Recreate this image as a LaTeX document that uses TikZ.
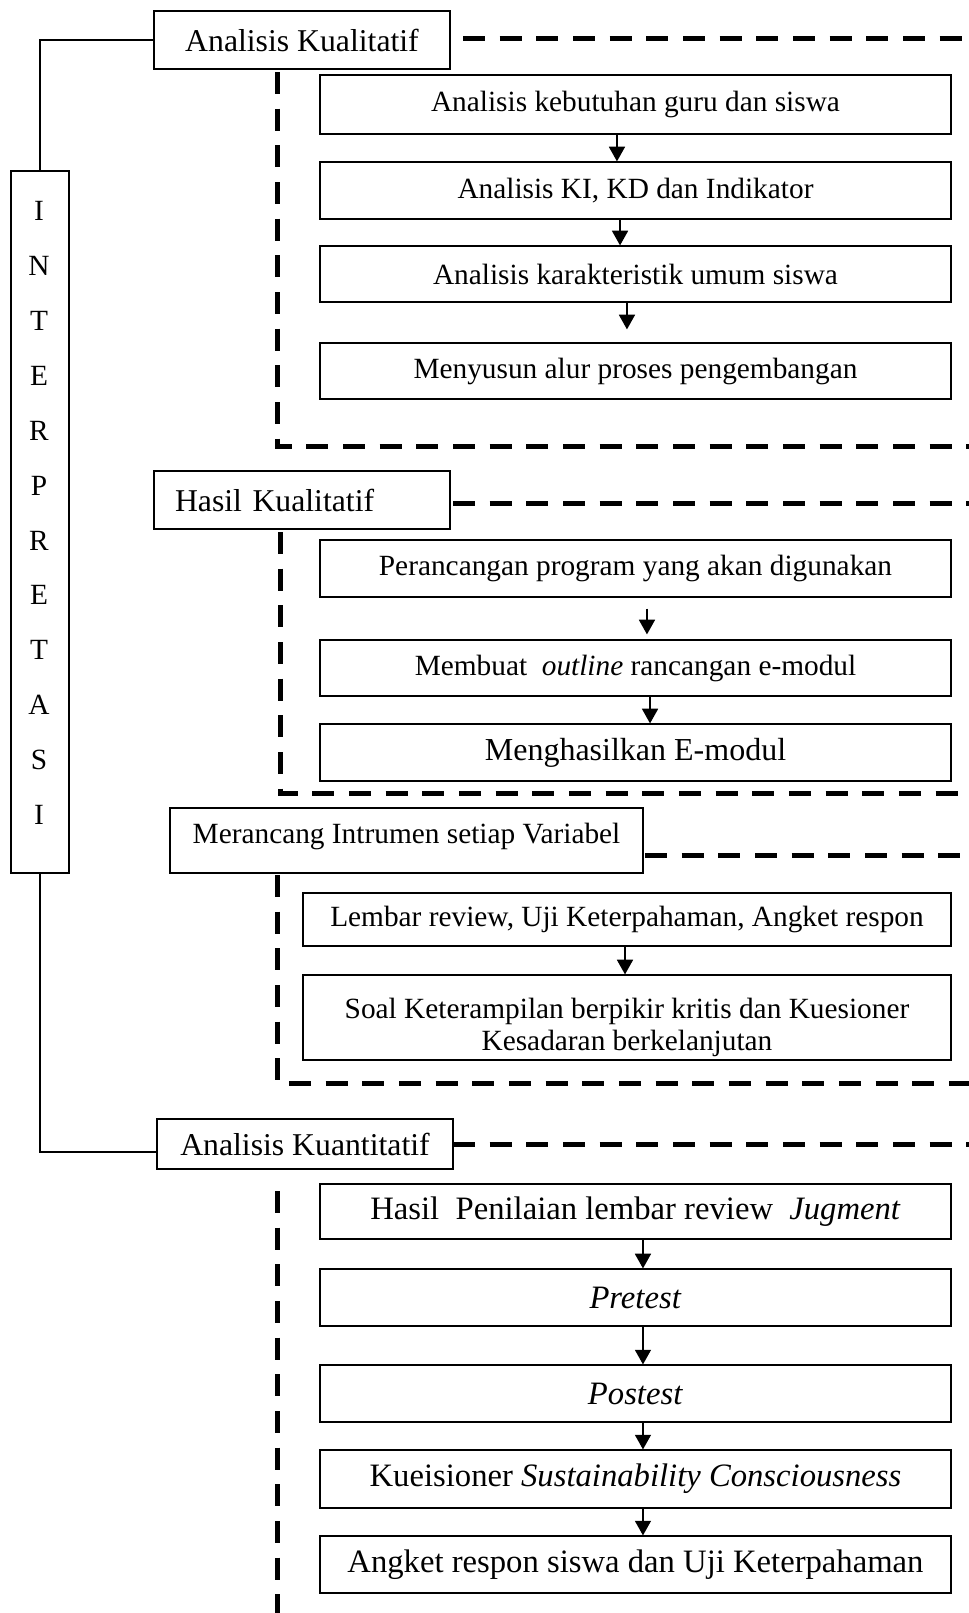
\documentclass[tikz,border=0pt]{standalone}
\usepackage{fontspec}
\setmainfont{Liberation Serif}
\usetikzlibrary{arrows.meta}
\begin{document}
\begin{tikzpicture}[x=0.75pt,y=-0.75pt,
  box/.style={draw, line width=0.9pt, inner sep=0pt, align=center, font=\fontsize{22}{24}\selectfont},
  head/.style={box, minimum width=222pt, font=\fontsize{23.8}{28}\selectfont},
  wide/.style={box, minimum width=473.25pt},
  big/.style={font=\fontsize{24.5}{28}\selectfont},
  letter/.style={inner sep=0pt, font=\fontsize{22}{24}\selectfont},
  dsh/.style={line width=3.75pt, dash pattern=on 16.5pt off 11pt},
  arr/.style={line width=1.2pt, -{Triangle[length=11pt,width=12pt]}},
  conn/.style={line width=1pt}]
\useasboundingbox (0,0) rectangle (969,1613);

% headings
\node[head, minimum height=43.5pt] (AK) at (302,40) {Analisis Kualitatif};
\node[head, minimum height=43.5pt, text width=190.5pt, inner xsep=15.75pt, align=left] (HK) at (302,500) {Hasil Kualitatif};
\node[box, minimum width=354.75pt, minimum height=48.75pt] (MI) at (406.5,840.5) {\raisebox{11pt}{Merancang Intrumen setiap Variabel}};
\node[head, minimum height=37.5pt] (AQ) at (305,1144) {Analisis Kuantitatif};

% interpretasi column
\node[box, minimum width=43.5pt, minimum height=526.5pt] (INT) at (40,522) {};
\foreach \l [count=\i from 0] in {I,N,T,E,R,P,R,E,T,A,S,I}
  \node[letter] (L\i) at (39,211+54.9*\i) {\l};

% section 1
\node[wide, minimum height=44.25pt] (k1) at (635.5,104.5) {\raisebox{-2pt}{Analisis kebutuhan guru dan siswa}};
\node[wide, minimum height=42.75pt] (k2) at (635.5,190.5) {Analisis KI, KD dan Indikator};
\node[wide, minimum height=42pt] (k3) at (635.5,274) {Analisis karakteristik umum siswa};
\node[wide, minimum height=42pt] (k4) at (635.5,371) {Menyusun alur proses pengembangan};

% section 2
\node[wide, minimum height=42.75pt] (h1) at (635.5,568.5) {Perancangan program yang akan digunakan};
\node[wide, minimum height=42pt] (h2) at (635.5,668) {Membuat \ \textit{outline} rancangan e-modul};
\node[wide, minimum height=42.75pt, font=\fontsize{24}{28}\selectfont] (h3) at (635.5,752.5) {\raisebox{-2pt}{Menghasilkan E-modul}};

% section 3
\node[box, minimum width=486pt, minimum height=39.75pt] (l1) at (627,919.5) {Lembar review, Uji Keterpahaman, Angket respon};
\node[box, minimum width=486pt, minimum height=63.75pt] (l2) at (627,1017.5) {\rule{0pt}{30pt}Soal Keterampilan berpikir kritis dan Kuesioner\\Kesadaran berkelanjutan};

% section 4
\node[wide, big, minimum height=41.25pt] (q1) at (635.5,1211.5) {Hasil \ Penilaian lembar review \ \textit{Jugment}};
\node[wide, big, minimum height=42.75pt] (q2) at (635.5,1297.5) {\textit{Pretest}};
\node[wide, big, minimum height=42.75pt] (q3) at (635.5,1393.5) {\textit{Postest}};
\node[wide, big, minimum height=43.5pt] (q4) at (635.5,1479) {Kueisioner \textit{Sustainability Consciousness}};
\node[wide, big, minimum height=42.75pt] (q5) at (635.5,1564.5) {Angket respon siswa dan Uji Keterpahaman};

% dashed frames
\draw[dsh] (463,38) -- (969,38);
\draw[dsh] (277,72) -- (277,446) -- (969,446);
\draw[dsh] (453,503) -- (969,503);
\draw[dsh] (280,532) -- (280,793) -- (969,793);
\draw[dsh] (645,855) -- (969,855);
\draw[dsh] (277,875) -- (277,1083) -- (969,1083);
\draw[dsh] (453,1144) -- (969,1144);
\draw[dsh] (277,1191) -- (277,1613);

% connectors
\draw[conn] (INT.north) |- (AK.west);
\draw[conn] (INT.south) |- ([yshift=-6pt]AQ.west);

% arrows
\draw[arr] ([xshift=-13.9pt]k1.south) -- ([xshift=-13.9pt]k2.north);
\draw[arr] ([xshift=-11.6pt]k2.south) -- ([xshift=-11.6pt]k3.north);
\draw[arr, shorten >=9.75pt] ([xshift=-6.4pt]k3.south) -- ([xshift=-6.4pt]k4.north);
\draw[arr, shorten <=8.25pt, shorten >=3.75pt] ([xshift=8.6pt]h1.south) -- ([xshift=8.6pt]h2.north);
\draw[arr] ([xshift=10.9pt]h2.south) -- ([xshift=10.9pt]h3.north);
\draw[arr] ([xshift=-1.5pt]l1.south) -- ([xshift=-1.5pt]l2.north);
\draw[arr] ([xshift=5.6pt]q1.south) -- ([xshift=5.6pt]q2.north);
\draw[arr] ([xshift=5.6pt]q2.south) -- ([xshift=5.6pt]q3.north);
\draw[arr] ([xshift=5.6pt]q3.south) -- ([xshift=5.6pt]q4.north);
\draw[arr] ([xshift=5.6pt]q4.south) -- ([xshift=5.6pt]q5.north);
\end{tikzpicture}
\end{document}
